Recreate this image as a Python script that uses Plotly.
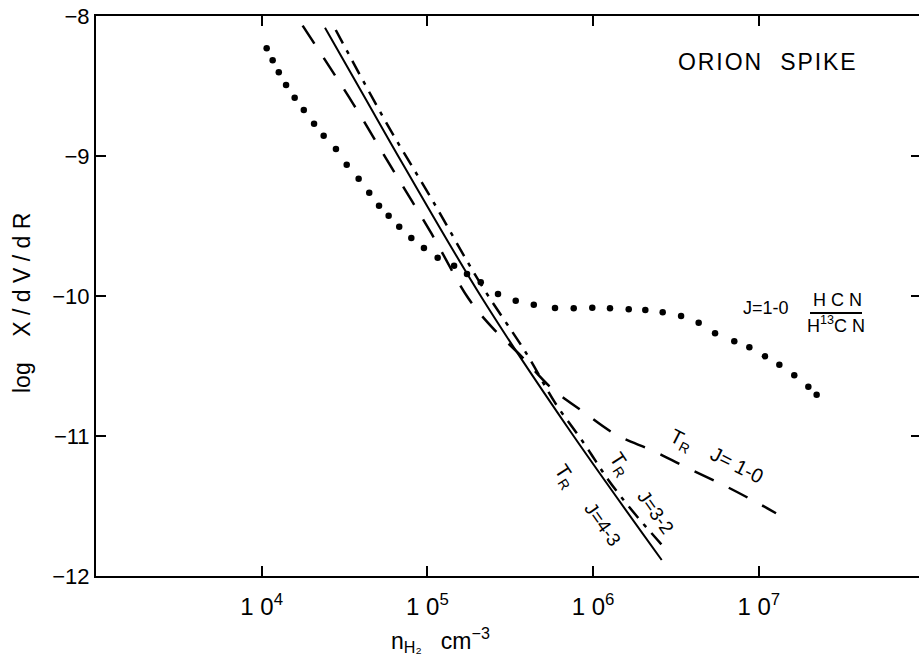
import numpy as np
import plotly.graph_objects as go

# ---- data (log10 n_H2, log X/dV/dR) ----
hcn_ratio_logn = [4.030, 4.066, 4.103, 4.147, 4.199, 4.254, 4.316, 4.374, 4.448, 4.513,
                  4.585, 4.649, 4.708, 4.766, 4.830, 4.903, 4.979, 5.062, 5.161, 5.239,
                  5.322, 5.426, 5.533, 5.642, 5.770, 5.883, 5.995, 6.102, 6.215, 6.315,
                  6.420, 6.531, 6.637, 6.736, 6.852, 6.943, 7.037, 7.124, 7.214, 7.299, 7.349]
hcn_ratio_y = [-8.231, -8.316, -8.402, -8.493, -8.584, -8.671, -8.769, -8.855, -8.950, -9.062,
               -9.162, -9.262, -9.355, -9.426, -9.505, -9.586, -9.657, -9.726, -9.784, -9.843,
               -9.902, -9.986, -10.034, -10.062, -10.086, -10.088, -10.084, -10.088, -10.095, -10.100,
               -10.116, -10.143, -10.191, -10.266, -10.324, -10.366, -10.431, -10.491, -10.566, -10.648, -10.705]

tr10_logn = [4.247, 4.553, 4.774, 5.026, 5.247, 5.392, 5.559, 5.750, 5.931, 6.142, 6.360, 6.595, 6.806, 6.997, 7.104]
tr10_y = [-8.069, -8.629, -9.064, -9.557, -10.016, -10.226, -10.421, -10.659, -10.819, -10.993,
          -11.105, -11.243, -11.362, -11.481, -11.552]

tr32_logn = [4.447, 4.760, 5.028, 5.317, 5.603, 5.770, 5.945, 6.092, 6.249, 6.420]
tr32_y = [-8.100, -8.779, -9.312, -9.905, -10.421, -10.762, -11.052, -11.314, -11.552, -11.784]

tr43_logn = [4.382, 4.617, 4.855, 5.337, 5.850, 6.414]
tr43_y = [-8.084, -8.571, -9.064, -10.029, -10.945, -11.886]

x_tick_exp = [4, 5, 6, 7]
y_ticks = [-8, -9, -10, -11, -12]

FONT = "Liberation Sans"
HS = "\u200a"  # hair space for letter spacing

fig = go.Figure()
fig.add_trace(go.Scatter(x=10 ** np.array(hcn_ratio_logn), y=hcn_ratio_y, mode="markers",
                         marker=dict(size=6.5, color="black"), showlegend=False))
fig.add_trace(go.Scatter(x=10 ** np.array(tr10_logn), y=tr10_y, mode="lines", line_shape="spline",
                         line=dict(color="black", width=2.5, dash="21px,17px"), showlegend=False))
fig.add_trace(go.Scatter(x=10 ** np.array(tr32_logn), y=tr32_y, mode="lines", line_shape="spline",
                         line=dict(color="black", width=2.5, dash="15px,8px,4px,8px"), showlegend=False))
fig.add_trace(go.Scatter(x=10 ** np.array(tr43_logn), y=tr43_y, mode="lines", line_shape="spline",
                         line=dict(color="black", width=2), showlegend=False))

ann = []
def add(text, x, y, size=16, angle=0, xref="x", yref="y"):
    ann.append(dict(text=text, x=x, y=y, xref=xref, yref=yref, showarrow=False, textangle=angle,
                    font=dict(family=FONT, size=size, color="black"), xanchor="center", yanchor="middle"))

add(HS.join("ORION") + "   " + HS.join("SPIKE"), 7.049, -8.329, size=23)
add("J=1-0", 7.043, -10.086, size=18)
add("H C N", 7.472, -10.029, size=18)
add("H<sup>13</sup>C N", 7.466, -10.207, size=18)
add("T<sub>R</sub>", 6.530, -11.029, size=20, angle=27)
add("J= 1-0", 6.868, -11.207, size=20, angle=27)
add("T<sub>R</sub>", 6.162, -11.200, size=20, angle=57)
add("J=3-2", 6.380, -11.543, size=19, angle=55)
add("T<sub>R</sub>", 5.830, -11.286, size=20, angle=57)
add("J=4-3", 6.060, -11.629, size=19, angle=55)
add("log    X / d V / d R", -0.0899, 0.4875, size=23, angle=-90, xref="paper", yref="paper")
add("n<sub>H₂</sub>   cm<sup>−3</sup>", 0.418, -0.114, size=23, xref="paper", yref="paper")

fig.update_layout(
    width=919, height=660,
    margin=dict(l=96, r=0, t=16, b=84, autoexpand=False),
    paper_bgcolor="white", plot_bgcolor="white",
    font=dict(family=FONT, color="black", size=21),
    annotations=ann,
    shapes=[dict(type="line", xref="paper", yref="y", x0=(810 - 96) / 823, x1=(862 - 96) / 823,
                 y0=-10.121, y1=-10.121, line=dict(color="black", width=2))],
    xaxis=dict(type="log", range=[3, 3 + 823 / 165.7], showgrid=False, zeroline=False, automargin=False,
               showline=True, linecolor="black", linewidth=2, mirror="ticks",
               ticks="inside", ticklen=10, tickwidth=2, tickcolor="black",
               tickvals=[10 ** e for e in x_tick_exp],
               ticktext=["1 0<sup>%d</sup>" % e for e in x_tick_exp],
               tickfont=dict(size=24), ticklabelstandoff=8),
    yaxis=dict(range=[-12, -8], showgrid=False, zeroline=False, automargin=False,
               showline=True, linecolor="black", linewidth=2,
               ticks="inside", ticklen=10, tickwidth=2, tickcolor="black",
               tickvals=y_ticks, ticktext=["−%d" % abs(v) for v in y_ticks],
               tickfont=dict(size=22)),
    yaxis2=dict(range=[-12, -8], overlaying="y", side="right", showgrid=False, zeroline=False,
                automargin=False, showline=False, ticks="inside", ticklen=8, tickwidth=2,
                tickcolor="black", tickvals=y_ticks[1:4], showticklabels=False),
)
fig.add_trace(go.Scatter(x=[None], y=[None], yaxis="y2", showlegend=False))
fig.write_html("out.html", config={"displayModeBar": False},
               post_script="document.body.style.margin='0';document.body.style.overflow='hidden';")
